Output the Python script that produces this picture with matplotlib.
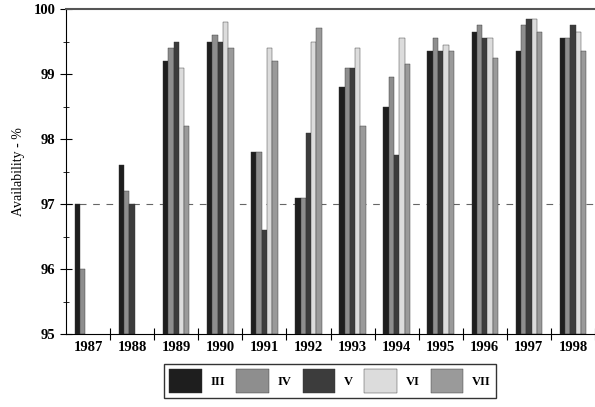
import numpy as np
import matplotlib
matplotlib.use('Agg')
import matplotlib.pyplot as plt

# годы и значения доступности по блокам
years = ['1987', '1988', '1989', '1990', '1991', '1992', '1993', '1994', '1995', '1996', '1997', '1998']
units = ['III', 'IV', 'V', 'VI', 'VII']

unit_III = [97.0, 97.6, 99.2, 99.5, 97.8, 97.1, 98.8, 98.5, 99.35, 99.65, 99.35, 99.55]
unit_IV = [96.0, 97.2, 99.4, 99.6, 97.8, 97.1, 99.1, 98.95, 99.55, 99.75, 99.75, 99.55]
unit_V = [np.nan, 97.0, 99.5, 99.5, 96.6, 98.1, 99.1, 97.75, 99.35, 99.55, 99.85, 99.75]
unit_VI = [np.nan, np.nan, 99.1, 99.8, 99.4, 99.5, 99.4, 99.55, 99.45, 99.55, 99.85, 99.65]
unit_VII = [np.nan, np.nan, 98.2, 99.4, 99.2, 99.7, 98.2, 99.15, 99.35, 99.25, 99.65, 99.35]

series = [unit_III, unit_IV, unit_V, unit_VI, unit_VII]
colors = ['#1e1e1e', '#8e8e8e', '#3c3c3c', '#dcdcdc', '#9a9a9a']

plt.rcParams['font.family'] = 'Liberation Serif'

fig = plt.figure(figsize=(5.95, 4.07), dpi=100)
ax = fig.add_axes([66 / 595, 73 / 407, 529 / 595, 325 / 407])

x = np.arange(len(years))
w = 0.12
for k, (vals, c) in enumerate(zip(series, colors)):
    vals = np.array(vals)
    ok = ~np.isnan(vals)
    ax.bar(x[ok] + (k - 2) * w, vals[ok] - 95, bottom=95, width=w,
           color=c, edgecolor='#333333', linewidth=0.3, label=units[k])

ax.axhline(97.0, color='#666666', linestyle=(0, (6, 6)), linewidth=0.8, zorder=0)

ax.set_ylim(95, 100)
ax.set_xlim(-0.5, -0.5 + 529 / 45)
ax.set_yticks([95, 96, 97, 98, 99, 100])
ax.set_yticks(np.arange(95.5, 100, 1), minor=True)
ax.set_xticks(x + 0.5)
ax.set_xticklabels([])
ax.set_xticks(x, minor=True)
ax.set_xticklabels(years, minor=True, fontsize=10.5, fontweight='bold')
ax.tick_params(axis='x', which='minor', length=0, pad=5)
ax.tick_params(axis='x', which='major', direction='inout', length=8)
ax.tick_params(axis='y', which='major', direction='inout', length=8, labelsize=10.5)
ax.tick_params(axis='y', which='minor', direction='inout', length=5)
for t in ax.get_yticklabels():
    t.set_fontweight('bold')

ax.set_ylabel('Availability - %', fontsize=10, labelpad=6)
ax.spines['right'].set_visible(False)
ax.spines['top'].set_color('#555555')
ax.spines['top'].set_linewidth(1.5)

leg = fig.legend(loc='center', bbox_to_anchor=(330 / 595, 1 - 381 / 407), ncol=5,
                 frameon=True, fancybox=False, edgecolor='black',
                 handlelength=2.6, handleheight=2.5, handletextpad=0.7,
                 columnspacing=0.9, borderpad=0.4,
                 prop={'weight': 'bold', 'size': 9})
leg.get_frame().set_linewidth(1.0)

plt.savefig('out.png', dpi=100)
